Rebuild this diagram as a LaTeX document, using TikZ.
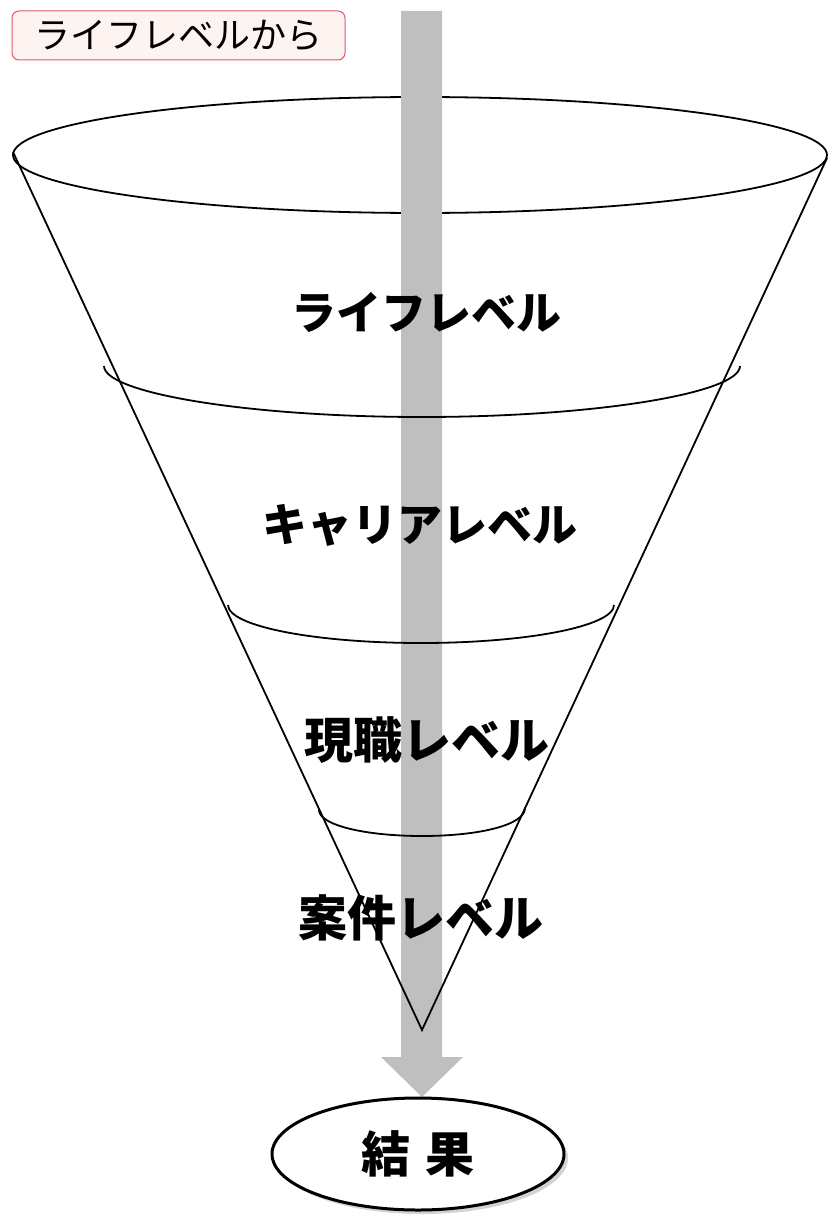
\documentclass[tikz,border=0pt]{standalone}
\usepackage{fontspec}
\setmainfont{Noto Sans CJK JP}
\usetikzlibrary{shapes.geometric,shadows}
\definecolor{bargray}{HTML}{BFBFBF}
\definecolor{tagline}{HTML}{E2566E}
\definecolor{tagfill}{HTML}{FDF4F1}
\tikzset{
  funnelline/.style={line width=1.8pt, black},
  levellabel/.style={font=\bfseries, inner sep=0pt, text=black},
  tagbox/.style={draw=tagline, fill=tagfill, line width=1pt, rounded corners=7pt,
    minimum width=333pt, minimum height=49pt, inner sep=0pt, font=\fontsize{36}{40}\selectfont},
  resultbox/.style={ellipse, draw=black, fill=white, line width=3pt,
    minimum width=292pt, minimum height=112pt, inner sep=0pt,
    drop shadow={opacity=0.35, shadow xshift=4pt, shadow yshift=-4pt},
    font=\bfseries\fontsize{49}{54}\selectfont}
}
\begin{document}
\begin{tikzpicture}[x=1pt,y=-1pt]
\useasboundingbox (0,0) rectangle (827,1215);
% top rim of funnel
\draw[funnelline] (420,155) ellipse [x radius=407pt, y radius=58pt];
% grey arrow
\coordinate (arrowtip) at (422,1097);
\fill[bargray] (401,11) -- (442,11) -- (442,1057) -- (463,1057) -- (arrowtip) -- (381,1057) -- (401,1057) -- cycle;
% funnel sides
\coordinate (leftrim) at (13,152);
\coordinate (rightrim) at (827,158);
\coordinate (tip) at (422,1030);
\draw[funnelline, line join=miter] (leftrim) -- (tip) -- (rightrim);
% level arcs
\draw[funnelline] (104,366) .. controls (104,393) and (248,417) .. (422,417)
                           .. controls (596,417) and (740,393) .. (740,366);
\draw[funnelline] (228,605) .. controls (228,626) and (314,643) .. (421,643)
                           .. controls (528,643) and (614,626) .. (614,605);
\draw[funnelline] (319,810) .. controls (319,825) and (365,836) .. (422,836)
                           .. controls (479,836) and (525,825) .. (525,808);
% labels
\node[tagbox] (tag) at (178.5,35.5) {ライフレベルから};
\node[levellabel, font=\bfseries\fontsize{45}{50}\selectfont] (life) at (426,312) {ライフレベル};
\node[levellabel, font=\bfseries\fontsize{45}{50}\selectfont] (career) at (420,525) {キャリアレベル};
\node[levellabel, font=\bfseries\fontsize{49}{54}\selectfont] (job) at (427,740) {現職レベル};
\node[levellabel, font=\bfseries\fontsize{49}{54}\selectfont] (case) at (421,918) {案件レベル};
\node[resultbox] (result) at (418,1154) {結\hspace{0.3em}果};
\end{tikzpicture}
\end{document}
